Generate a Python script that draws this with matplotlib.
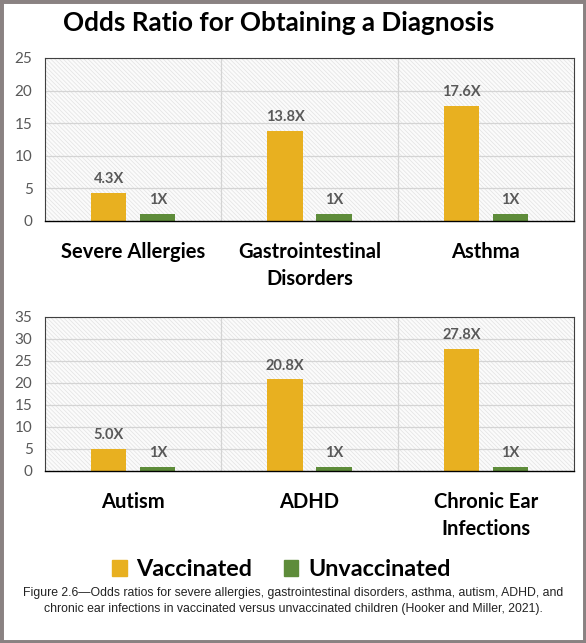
import matplotlib.pyplot as plt
from matplotlib.patches import Rectangle
import numpy as np

# values
top_cats = ['Severe Allergies', 'Gastrointestinal\nDisorders', 'Asthma']
top_vacc = [4.3, 13.8, 17.6]
top_unvacc = [1, 1, 1]

bot_cats = ['Autism', 'ADHD', 'Chronic Ear\nInfections']
bot_vacc = [5.0, 20.8, 27.8]
bot_unvacc = [1, 1, 1]

top_ticks = [0, 5, 10, 15, 20, 25]
bot_ticks = [0, 5, 10, 15, 20, 25, 30, 35]

gold = '#E8B020'
green = '#5E8C3A'
tick_gray = '#595959'

plt.rcParams['hatch.linewidth'] = 0.5
plt.rcParams['font.family'] = ['Lato', 'DejaVu Sans']

fig = plt.figure(figsize=(5.86, 6.43), dpi=100)


def draw_panel(ax, cats, vacc, unvacc, ticks):
    x = np.arange(len(cats))
    ax.add_patch(Rectangle((0, 0), 1, 1, transform=ax.transAxes, facecolor='#fbfbfb',
                           edgecolor='#e2e2e2', hatch='\\\\\\\\\\\\\\\\', lw=0, zorder=0))
    for t in ticks[1:]:
        ax.axhline(t, color='#d4d4d4', lw=0.9, zorder=1)
    for b in x[:-1] + 0.5:
        ax.axvline(b, color='#d4d4d4', lw=0.9, zorder=1)
    ax.bar(x - 0.139, vacc, width=0.2, color=gold, zorder=2)
    ax.bar(x + 0.139, unvacc, width=0.2, color=green, zorder=2)
    for i in x:
        ax.text(i - 0.139, vacc[i] + ticks[-1] * 0.045, f'{vacc[i]:.1f}X', ha='center', va='bottom',
                fontsize=10.5, fontweight='bold', color=tick_gray)
        ax.text(i + 0.139, unvacc[i] + ticks[-1] * 0.045, f'{unvacc[i]}X', ha='center', va='bottom',
                fontsize=10.5, fontweight='bold', color=tick_gray)
    ax.set_xlim(-0.5, len(cats) - 0.5)
    ax.set_ylim(0, ticks[-1])
    ax.set_yticks(ticks)
    ax.set_xticks(x)
    ax.set_xticklabels(cats, fontsize=14.5, fontweight='bold', color='black', linespacing=1.45)
    ax.tick_params(axis='x', length=0, pad=15)
    ax.tick_params(axis='y', length=0, pad=9, labelsize=11, labelcolor=tick_gray)
    for s in ['top', 'right', 'left']:
        ax.spines[s].set_color('#404040')
        ax.spines[s].set_linewidth(0.8)
    ax.spines['bottom'].set_color('black')
    ax.spines['bottom'].set_linewidth(1.0)


ax1 = fig.add_axes([0.0768, 0.6563, 0.9027, 0.2535])
draw_panel(ax1, top_cats, top_vacc, top_unvacc, top_ticks)

ax2 = fig.add_axes([0.0768, 0.2675, 0.9027, 0.2395])
draw_panel(ax2, bot_cats, bot_vacc, bot_unvacc, bot_ticks)

fig.text(0.476, 0.965, 'Odds Ratio for Obtaining a Diagnosis', ha='center', va='center',
         fontsize=18.8, fontweight='bold')

# legend
handles = [Rectangle((0, 0), 1, 1, color=gold), Rectangle((0, 0), 1, 1, color=green)]
fig.legend(handles, ['Vaccinated', 'Unvaccinated'], loc='center', bbox_to_anchor=(0.48, 0.114),
           ncol=2, frameon=False, prop={'weight': 'bold', 'size': 16.8},
           handlelength=0.62, handleheight=0.62, columnspacing=1.35, handletextpad=0.42)

fig.text(0.5, 0.066, 'Figure 2.6\u2014Odds ratios for severe allergies, gastrointestinal disorders, asthma, autism, ADHD, and\n'
         'chronic ear infections in vaccinated versus unvaccinated children (Hooker and Miller, 2021).',
         ha='center', va='center', fontsize=8.8, family='Liberation Sans', color='#222222', linespacing=1.45)

# grey frame around the whole figure
fig.add_artist(Rectangle((0, 0), 1, 1, transform=fig.transFigure, fill=False,
                         edgecolor='#8a8282', lw=5))

fig.savefig('out.png', dpi=100)
